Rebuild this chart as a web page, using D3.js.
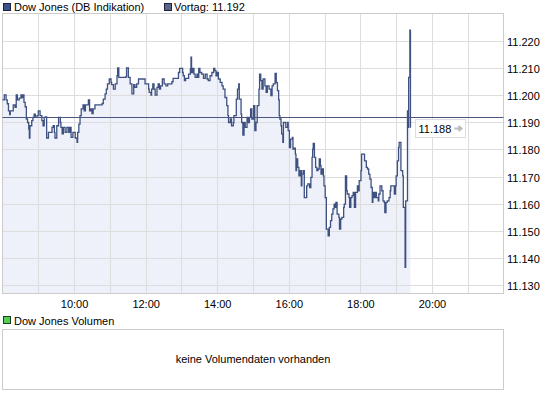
<!DOCTYPE html>
<html><head><meta charset="utf-8">
<script src="https://cdn.jsdelivr.net/npm/d3@7"></script>
<style>
body{margin:0;background:#fff;}
text{font-family:"Liberation Sans",Arial,sans-serif;font-size:11px;fill:#000;}
</style></head>
<body><svg id="c" width="545" height="398"></svg>
<script>
const title = "Dow Jones (DB Indikation)";
const prevLabel = "Vortag: 11.192";
const prevClose = 11.192;
const lastValue = 11.188;
const volumeTitle = "Dow Jones Volumen";
const volumeNote = "keine Volumendaten vorhanden";
const timeDomain = ["8:00", "22:00"];
const valueDomain = [11.127, 11.230];
const yTicks = [11.13, 11.14, 11.15, 11.16, 11.17, 11.18, 11.19, 11.20, 11.21, 11.22];
const xGridHours = ["9:00","10:00","11:00","12:00","13:00","14:00","15:00","16:00","17:00","18:00","19:00","20:00","21:00"];
const xLabels = ["10:00","12:00","14:00","16:00","18:00","20:00"];

const times = ["8:00","8:01","8:03","8:06","8:08","8:10","8:12","8:13","8:17","8:18","8:21","8:23","8:25","8:28","8:31","8:32","8:34","8:36","8:38","8:40","8:42","8:44","8:45","8:46","8:49","8:51","8:53","8:55","8:58",
"9:00","9:03","9:06","9:08","9:10","9:12","9:14","9:17","9:20","9:23","9:25","9:27","9:28","9:31","9:34","9:37","9:38","9:40","9:42","9:45","9:48","9:51","9:53","9:55","9:58",
"10:00","10:02","10:05","10:06","10:08","10:10","10:12","10:15","10:17","10:19","10:22","10:24","10:26","10:28","10:30","10:32","10:35","10:44","10:47","10:49","10:52","10:54","10:56","10:59",
"11:02","11:03","11:06","11:09","11:12","11:13","11:15","11:23","11:27","11:28","11:31","11:34","11:37","11:40","11:42","11:45","11:48","11:56","11:59",
"12:02","12:05","12:06","12:09","12:10","12:12","12:14","12:16","12:19","12:21","12:23","12:25","12:28","12:31","12:34","12:37","12:41","12:44","12:46","12:52","12:55","12:57",
"13:00","13:02","13:03","13:05","13:07","13:10","13:12","13:15","13:16","13:17","13:19","13:21","13:23","13:26","13:27","13:29","13:31","13:34","13:37","13:40","13:43","13:45","13:48","13:51","13:54","13:56","13:58",
"14:00","14:02","14:05","14:08","14:10","14:13","14:16","14:18","14:19","14:22","14:24","14:27","14:28","14:32","14:34","14:36","14:37","14:40","14:41","14:43","14:45","14:47","14:50","14:52","14:54","14:56","14:58",
"15:01","15:03","15:05","15:07","15:10","15:11","15:13","15:15","15:17","15:20","15:22","15:24","15:27","15:30","15:32","15:34","15:37","15:39","15:41","15:43","15:44","15:45","15:47","15:48","15:50","15:51","15:54","15:55","15:58","15:59",
"16:01","16:03","16:06","16:07","16:09","16:11","16:12","16:13","16:15","16:17","16:19","16:21","16:22","16:24","16:26","16:28","16:30","16:32","16:35","16:37","16:39","16:40","16:41","16:43","16:45","16:47","16:49","16:51","16:53","16:54","16:56","16:58","16:59",
"17:01","17:03","17:05","17:06","17:08","17:10","17:12","17:14","17:16","17:18","17:19","17:21","17:24","17:25","17:27","17:29","17:32","17:33","17:35","17:37","17:38","17:41","17:42","17:44","17:46","17:48","17:50","17:52","17:54","17:55","17:57","17:58",
"18:01","18:02","18:05","18:07","18:10","18:12","18:14","18:16","18:18","18:20","18:21","18:23","18:25","18:27","18:30","18:31","18:33","18:35","18:36","18:38","18:40","18:41","18:43","18:45","18:48","18:50","18:51","18:55","18:57","18:59",
"19:00","19:02","19:04","19:05","19:08","19:10","19:11","19:12","19:14","19:15","19:16","19:19","19:20","19:21","19:23","19:24"];

const values = [11.1982,11.1982,11.2001,11.1982,11.1968,11.1942,11.1928,11.1942,11.1942,11.1964,11.1955,11.2001,11.1982,11.1989,11.2001,11.1991,11.2001,11.1973,11.1957,11.1912,11.1899,11.1875,11.1842,11.1887,11.1906,11.1918,11.1930,11.1918,11.1924,
11.1942,11.1924,11.1906,11.1887,11.1918,11.1920,11.1842,11.1863,11.1863,11.1881,11.1887,11.1863,11.1842,11.1887,11.1918,11.1899,11.1881,11.1857,11.1881,11.1863,11.1881,11.1863,11.1881,11.1844,11.1863,
11.1863,11.1842,11.1826,11.1863,11.1893,11.1924,11.1949,11.1964,11.1942,11.1964,11.1964,11.1982,11.1942,11.1949,11.1932,11.1949,11.1964,11.1964,11.1969,11.1985,11.2004,11.2022,11.2041,11.2059,
11.2047,11.2038,11.2022,11.2041,11.2071,11.2100,11.2065,11.2065,11.2068,11.2100,11.2065,11.2041,11.2004,11.2038,11.2028,11.2041,11.2059,11.2059,11.2041,
11.2041,11.2022,11.2010,11.2000,11.2022,11.2041,11.2022,11.2000,11.2028,11.2041,11.2022,11.2034,11.2059,11.2041,11.2034,11.2041,11.2041,11.2049,11.2061,11.2061,11.2083,11.2098,
11.2098,11.2083,11.2071,11.2053,11.2061,11.2061,11.2077,11.2096,11.2139,11.2083,11.2098,11.2077,11.2065,11.2077,11.2065,11.2098,11.2083,11.2077,11.2061,11.2077,11.2059,11.2053,11.2071,11.2083,11.2098,11.2090,11.2071,
11.2083,11.2059,11.2047,11.2034,11.2022,11.1991,11.1961,11.1924,11.1899,11.1912,11.1887,11.1899,11.1924,11.1985,11.2022,11.2041,11.1985,11.1930,11.1899,11.1853,11.1899,11.1881,11.1918,11.1899,11.1918,11.1949,11.1912,
11.1961,11.1869,11.1899,11.1961,11.2022,11.2077,11.2053,11.2022,11.2059,11.2034,11.2010,11.2034,11.2022,11.1998,11.2034,11.2041,11.2080,11.2046,11.2016,11.1982,11.1924,11.1912,11.1887,11.1857,11.1826,11.1899,11.1899,11.1881,11.1899,11.1869,
11.1807,11.1838,11.1844,11.1801,11.1805,11.1783,11.1722,11.1765,11.1734,11.1703,11.1722,11.1666,11.1709,11.1722,11.1623,11.1623,11.1666,11.1673,11.1660,11.1697,11.1771,11.1801,11.1822,11.1771,11.1734,11.1722,11.1728,11.1765,11.1740,11.1709,11.1728,11.1703,11.1666,
11.1623,11.1507,11.1507,11.1482,11.1513,11.1538,11.1562,11.1581,11.1599,11.1587,11.1605,11.1562,11.1550,11.1507,11.1544,11.1550,11.1587,11.1599,11.1703,11.1648,11.1636,11.1623,11.1587,11.1623,11.1630,11.1642,11.1587,11.1642,11.1642,11.1666,11.1648,11.1685,
11.1722,11.1783,11.1783,11.1758,11.1734,11.1728,11.1709,11.1691,11.1660,11.1605,11.1642,11.1623,11.1642,11.1623,11.1611,11.1636,11.1666,11.1666,11.1648,11.1611,11.1605,11.1568,11.1605,11.1611,11.1623,11.1648,11.1666,11.1666,11.1636,11.1666,
11.1703,11.1758,11.1807,11.1826,11.1722,11.1722,11.1703,11.1587,11.1587,11.1366,11.1611,11.1942,11.1881,11.2065,11.2239,11.1880];

const parse = d3.timeParse("%H:%M");
const data = times.map((t, i) => ({t: parse(t), v: values[i]}));

const svg = d3.select("#c");
const L = 2.5, R = 503.5, T = 13.5, B = 293.5;
const x = d3.scaleTime().domain(timeDomain.map(parse)).range([L, R]);
const y = d3.scaleLinear().domain(valueDomain).range([B, T]);

const lineCol = "#3e5181";
const gridCol = "#dddddd";

// fill
svg.append("path").datum(data)
  .attr("fill", "#eef1fa")
  .attr("d", d3.area().curve(d3.curveStepAfter).x(d => x(d.t)).y0(B).y1(d => y(d.v)));

// grid
svg.append("g").selectAll("line").data(yTicks).join("line")
  .attr("x1", L).attr("x2", R)
  .attr("y1", d => Math.round(y(d)) + 0.5).attr("y2", d => Math.round(y(d)) + 0.5)
  .attr("stroke", gridCol);
svg.append("g").selectAll("line").data(xGridHours).join("line")
  .attr("y1", T).attr("y2", B)
  .attr("x1", d => Math.round(x(parse(d))) + 0.5).attr("x2", d => Math.round(x(parse(d))) + 0.5)
  .attr("stroke", gridCol);
svg.append("rect").attr("x", L).attr("y", T).attr("width", R - L).attr("height", B - T)
  .attr("fill", "none").attr("stroke", "#cccccc");

// axes labels
svg.append("g").selectAll("text").data(yTicks).join("text")
  .attr("x", 507).attr("y", d => Math.round(y(d)) + 4.5)
  .text(d => d3.format(",.3f")(d).replace(",", "."));
const xAxis = d3.axisBottom(x).tickValues(xLabels.map(parse)).tickFormat(d3.timeFormat("%H:%M")).tickSize(0);
const gx = svg.append("g").attr("transform", `translate(0,${B})`).call(xAxis);
gx.select(".domain").remove();
gx.selectAll("text").attr("dy", null).attr("y", 14)
  .style("font-family", '"Liberation Sans",Arial,sans-serif').style("font-size", "11px").attr("fill", "#000");

// data line
svg.append("path").datum(data)
  .attr("fill", "none").attr("stroke", lineCol).attr("stroke-width", 1.3)
  .attr("d", d3.line().curve(d3.curveStepAfter).x(d => x(d.t)).y(d => y(d.v)));

// previous close line
const yp = Math.round(y(prevClose)) + 0.5;
svg.append("line").attr("x1", L).attr("x2", R).attr("y1", yp).attr("y2", yp)
  .attr("stroke", "#4b5680").attr("stroke-width", 1);

// last value label
const yl = y(lastValue);
const lab = svg.append("g").attr("transform", `translate(415.5,${Math.round(yl) - 8.5})`);
lab.append("rect").attr("width", 50).attr("height", 18).attr("fill", "#fff").attr("stroke", "#dddddd");
lab.append("text").attr("x", 3).attr("y", 13).text(d3.format(".3f")(lastValue));
lab.append("path").attr("d", "M39,9H45 M43,6.5L46,9L43,11.5").attr("stroke", "#bbbbbb").attr("stroke-width", 2).attr("fill", "none");

// legend
svg.append("rect").attr("x", 3.5).attr("y", 3.5).attr("width", 7).attr("height", 7)
  .attr("fill", "#3d5287").attr("stroke", "#1a2240");
svg.append("text").attr("x", 14).attr("y", 11).text(title);
svg.append("rect").attr("x", 164.5).attr("y", 3.5).attr("width", 7).attr("height", 7)
  .attr("fill", "#5c6488").attr("stroke", "#1a2240");
svg.append("text").attr("x", 174).attr("y", 11).text(prevLabel);

// volume panel
svg.append("rect").attr("x", 3.5).attr("y", 316.5).attr("width", 7).attr("height", 7)
  .attr("fill", "#55cc55").attr("stroke", "#1a4020");
svg.append("text").attr("x", 14).attr("y", 325).text(volumeTitle);
svg.append("rect").attr("x", L).attr("y", 329.5).attr("width", R - L).attr("height", 60)
  .attr("fill", "#fff").attr("stroke", "#cccccc");
svg.append("text").attr("x", (L + R) / 2).attr("y", 363).attr("text-anchor", "middle").text(volumeNote);
</script></body></html>
